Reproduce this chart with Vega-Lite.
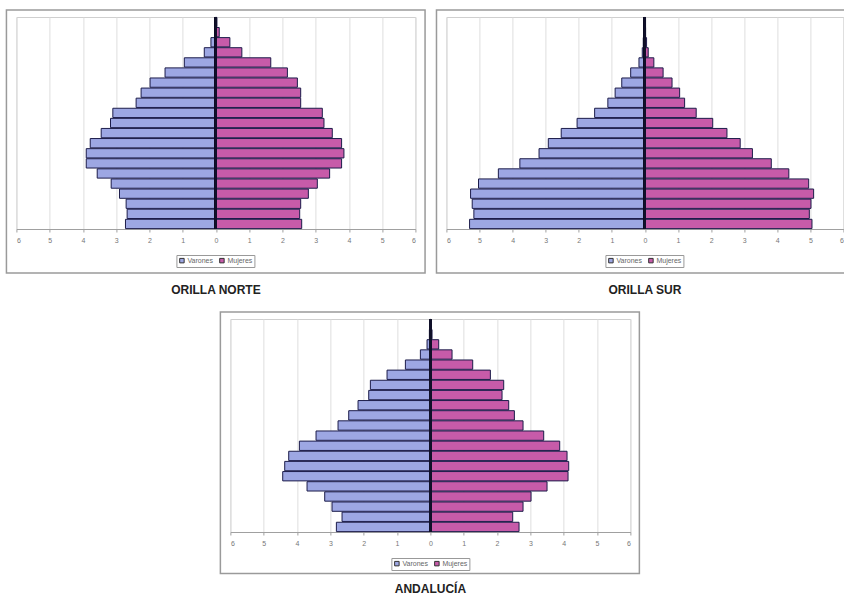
{
  "$schema": "https://vega.github.io/schema/vega-lite/v6.json",
  "padding": {"left": 5, "top": 8, "right": 0, "bottom": 0},
  "spacing": 13,
  "center": true,
  "background": "white",
  "config": {
    "view": {"stroke": "#cfcfcf", "strokeWidth": 1},
    "font": "Liberation Sans",
    "axis": {"labelFont": "Liberation Sans"},
    "legend": {"labelFont": "Liberation Sans"}
  },
  "datasets": {
    "norte": [
      {"edad": "0-4", "sexo": "Varones", "pct": -2.72}, {"edad": "0-4", "sexo": "Mujeres", "pct": 2.58},
      {"edad": "5-9", "sexo": "Varones", "pct": -2.67}, {"edad": "5-9", "sexo": "Mujeres", "pct": 2.52},
      {"edad": "10-14", "sexo": "Varones", "pct": -2.70}, {"edad": "10-14", "sexo": "Mujeres", "pct": 2.55},
      {"edad": "15-19", "sexo": "Varones", "pct": -2.90}, {"edad": "15-19", "sexo": "Mujeres", "pct": 2.78},
      {"edad": "20-24", "sexo": "Varones", "pct": -3.15}, {"edad": "20-24", "sexo": "Mujeres", "pct": 3.05},
      {"edad": "25-29", "sexo": "Varones", "pct": -3.57}, {"edad": "25-29", "sexo": "Mujeres", "pct": 3.42},
      {"edad": "30-34", "sexo": "Varones", "pct": -3.90}, {"edad": "30-34", "sexo": "Mujeres", "pct": 3.78},
      {"edad": "35-39", "sexo": "Varones", "pct": -3.90}, {"edad": "35-39", "sexo": "Mujeres", "pct": 3.85},
      {"edad": "40-44", "sexo": "Varones", "pct": -3.78}, {"edad": "40-44", "sexo": "Mujeres", "pct": 3.78},
      {"edad": "45-49", "sexo": "Varones", "pct": -3.45}, {"edad": "45-49", "sexo": "Mujeres", "pct": 3.50},
      {"edad": "50-54", "sexo": "Varones", "pct": -3.17}, {"edad": "50-54", "sexo": "Mujeres", "pct": 3.25},
      {"edad": "55-59", "sexo": "Varones", "pct": -3.10}, {"edad": "55-59", "sexo": "Mujeres", "pct": 3.20},
      {"edad": "60-64", "sexo": "Varones", "pct": -2.40}, {"edad": "60-64", "sexo": "Mujeres", "pct": 2.55},
      {"edad": "65-69", "sexo": "Varones", "pct": -2.25}, {"edad": "65-69", "sexo": "Mujeres", "pct": 2.55},
      {"edad": "70-74", "sexo": "Varones", "pct": -1.98}, {"edad": "70-74", "sexo": "Mujeres", "pct": 2.45},
      {"edad": "75-79", "sexo": "Varones", "pct": -1.53}, {"edad": "75-79", "sexo": "Mujeres", "pct": 2.15},
      {"edad": "80-84", "sexo": "Varones", "pct": -0.95}, {"edad": "80-84", "sexo": "Mujeres", "pct": 1.65},
      {"edad": "85-89", "sexo": "Varones", "pct": -0.35}, {"edad": "85-89", "sexo": "Mujeres", "pct": 0.78},
      {"edad": "90-94", "sexo": "Varones", "pct": -0.15}, {"edad": "90-94", "sexo": "Mujeres", "pct": 0.42},
      {"edad": "95-99", "sexo": "Varones", "pct": -0.04}, {"edad": "95-99", "sexo": "Mujeres", "pct": 0.10},
      {"edad": "100+", "sexo": "Varones", "pct": -0.02}, {"edad": "100+", "sexo": "Mujeres", "pct": 0.03}
    ],
    "sur": [
      {"edad": "0-4", "sexo": "Varones", "pct": -5.30}, {"edad": "0-4", "sexo": "Mujeres", "pct": 5.05},
      {"edad": "5-9", "sexo": "Varones", "pct": -5.17}, {"edad": "5-9", "sexo": "Mujeres", "pct": 4.97},
      {"edad": "10-14", "sexo": "Varones", "pct": -5.22}, {"edad": "10-14", "sexo": "Mujeres", "pct": 5.02},
      {"edad": "15-19", "sexo": "Varones", "pct": -5.27}, {"edad": "15-19", "sexo": "Mujeres", "pct": 5.10},
      {"edad": "20-24", "sexo": "Varones", "pct": -5.03}, {"edad": "20-24", "sexo": "Mujeres", "pct": 4.95},
      {"edad": "25-29", "sexo": "Varones", "pct": -4.43}, {"edad": "25-29", "sexo": "Mujeres", "pct": 4.35},
      {"edad": "30-34", "sexo": "Varones", "pct": -3.78}, {"edad": "30-34", "sexo": "Mujeres", "pct": 3.82},
      {"edad": "35-39", "sexo": "Varones", "pct": -3.20}, {"edad": "35-39", "sexo": "Mujeres", "pct": 3.25},
      {"edad": "40-44", "sexo": "Varones", "pct": -2.92}, {"edad": "40-44", "sexo": "Mujeres", "pct": 2.88},
      {"edad": "45-49", "sexo": "Varones", "pct": -2.53}, {"edad": "45-49", "sexo": "Mujeres", "pct": 2.48},
      {"edad": "50-54", "sexo": "Varones", "pct": -2.05}, {"edad": "50-54", "sexo": "Mujeres", "pct": 2.05},
      {"edad": "55-59", "sexo": "Varones", "pct": -1.52}, {"edad": "55-59", "sexo": "Mujeres", "pct": 1.55},
      {"edad": "60-64", "sexo": "Varones", "pct": -1.12}, {"edad": "60-64", "sexo": "Mujeres", "pct": 1.20},
      {"edad": "65-69", "sexo": "Varones", "pct": -0.90}, {"edad": "65-69", "sexo": "Mujeres", "pct": 1.05},
      {"edad": "70-74", "sexo": "Varones", "pct": -0.70}, {"edad": "70-74", "sexo": "Mujeres", "pct": 0.82},
      {"edad": "75-79", "sexo": "Varones", "pct": -0.43}, {"edad": "75-79", "sexo": "Mujeres", "pct": 0.55},
      {"edad": "80-84", "sexo": "Varones", "pct": -0.18}, {"edad": "80-84", "sexo": "Mujeres", "pct": 0.27},
      {"edad": "85-89", "sexo": "Varones", "pct": -0.08}, {"edad": "85-89", "sexo": "Mujeres", "pct": 0.10},
      {"edad": "90-94", "sexo": "Varones", "pct": -0.05}, {"edad": "90-94", "sexo": "Mujeres", "pct": 0.05},
      {"edad": "95-99", "sexo": "Varones", "pct": -0.02}, {"edad": "95-99", "sexo": "Mujeres", "pct": 0.02},
      {"edad": "100+", "sexo": "Varones", "pct": -0.01}, {"edad": "100+", "sexo": "Mujeres", "pct": 0.01}
    ],
    "andalucia": [
      {"edad": "0-4", "sexo": "Varones", "pct": -2.82}, {"edad": "0-4", "sexo": "Mujeres", "pct": 2.66},
      {"edad": "5-9", "sexo": "Varones", "pct": -2.65}, {"edad": "5-9", "sexo": "Mujeres", "pct": 2.47},
      {"edad": "10-14", "sexo": "Varones", "pct": -2.95}, {"edad": "10-14", "sexo": "Mujeres", "pct": 2.78},
      {"edad": "15-19", "sexo": "Varones", "pct": -3.17}, {"edad": "15-19", "sexo": "Mujeres", "pct": 3.02},
      {"edad": "20-24", "sexo": "Varones", "pct": -3.70}, {"edad": "20-24", "sexo": "Mujeres", "pct": 3.50},
      {"edad": "25-29", "sexo": "Varones", "pct": -4.43}, {"edad": "25-29", "sexo": "Mujeres", "pct": 4.13},
      {"edad": "30-34", "sexo": "Varones", "pct": -4.37}, {"edad": "30-34", "sexo": "Mujeres", "pct": 4.15},
      {"edad": "35-39", "sexo": "Varones", "pct": -4.25}, {"edad": "35-39", "sexo": "Mujeres", "pct": 4.10},
      {"edad": "40-44", "sexo": "Varones", "pct": -3.93}, {"edad": "40-44", "sexo": "Mujeres", "pct": 3.88},
      {"edad": "45-49", "sexo": "Varones", "pct": -3.43}, {"edad": "45-49", "sexo": "Mujeres", "pct": 3.40},
      {"edad": "50-54", "sexo": "Varones", "pct": -2.77}, {"edad": "50-54", "sexo": "Mujeres", "pct": 2.78},
      {"edad": "55-59", "sexo": "Varones", "pct": -2.45}, {"edad": "55-59", "sexo": "Mujeres", "pct": 2.52},
      {"edad": "60-64", "sexo": "Varones", "pct": -2.17}, {"edad": "60-64", "sexo": "Mujeres", "pct": 2.35},
      {"edad": "65-69", "sexo": "Varones", "pct": -1.85}, {"edad": "65-69", "sexo": "Mujeres", "pct": 2.15},
      {"edad": "70-74", "sexo": "Varones", "pct": -1.80}, {"edad": "70-74", "sexo": "Mujeres", "pct": 2.20},
      {"edad": "75-79", "sexo": "Varones", "pct": -1.30}, {"edad": "75-79", "sexo": "Mujeres", "pct": 1.80},
      {"edad": "80-84", "sexo": "Varones", "pct": -0.75}, {"edad": "80-84", "sexo": "Mujeres", "pct": 1.27},
      {"edad": "85-89", "sexo": "Varones", "pct": -0.30}, {"edad": "85-89", "sexo": "Mujeres", "pct": 0.65},
      {"edad": "90-94", "sexo": "Varones", "pct": -0.10}, {"edad": "90-94", "sexo": "Mujeres", "pct": 0.25},
      {"edad": "95-99", "sexo": "Varones", "pct": -0.03}, {"edad": "95-99", "sexo": "Mujeres", "pct": 0.05},
      {"edad": "100+", "sexo": "Varones", "pct": -0.01}, {"edad": "100+", "sexo": "Mujeres", "pct": 0.02}
    ]
  },
  "resolve": {"scale": {"color": "independent"}, "legend": {"color": "independent"}},
  "vconcat": [
    {
      "hconcat": [
        {
          "width": 399, "height": 212,
          "data": {"name": "norte"},
          "title": {"text": "ORILLA NORTE", "orient": "bottom", "anchor": "middle", "frame": "group", "fontSize": 12, "fontWeight": "bold", "font": "Liberation Sans", "color": "#222222", "offset": 11},
          "resolve": {"scale": {"y": "independent"}},
          "layer": [
            {"data": {"values": [{}]}, "mark": {"type": "rect", "clip": false, "fill": "white", "fillOpacity": 0, "stroke": "#9a9a9a", "strokeWidth": 1.5},
             "encoding": {"x": {"datum": -6.3, "type": "quantitative", "scale": {"domain": [-6, 6], "nice": false}, "axis": {"title": null, "values": [-6, -5, -4, -3, -2, -1, 0, 1, 2, 3, 4, 5, 6], "labelExpr": "abs(datum.value)", "grid": true, "gridColor": "#dedede", "domainColor": "#a0a0a0", "tickColor": "#a0a0a0", "tickSize": 3, "labelFontSize": 7, "labelColor": "#777777", "labelPadding": 4}}, "x2": {"datum": 6.29}, "y": {"datum": 1.033, "type": "quantitative", "scale": {"domain": [0, 1], "nice": false}, "axis": null}, "y2": {"datum": -0.2075}}},
            {"mark": {"type": "bar", "stroke": "#1c1c4a", "strokeWidth": 1},
             "encoding": {
               "y": {"field": "edad", "type": "ordinal", "sort": ["100+", "95-99", "90-94", "85-89", "80-84", "75-79", "70-74", "65-69", "60-64", "55-59", "50-54", "45-49", "40-44", "35-39", "30-34", "25-29", "20-24", "15-19", "10-14", "5-9", "0-4"], "axis": null, "scale": {"paddingInner": 0.08, "paddingOuter": 0.04}},
               "x": {"field": "pct", "type": "quantitative", "scale": {"domain": [-6, 6], "nice": false}, "axis": {"title": null, "values": [-6, -5, -4, -3, -2, -1, 0, 1, 2, 3, 4, 5, 6], "labelExpr": "abs(datum.value)", "grid": true, "gridColor": "#dedede", "domainColor": "#a0a0a0", "tickColor": "#a0a0a0", "tickSize": 3, "labelFontSize": 7, "labelColor": "#777777", "labelPadding": 4}},
               "color": {"field": "sexo", "type": "nominal", "scale": {"domain": ["Varones", "Mujeres"], "range": ["#9da7e3", "#c75ba9"]},
                 "legend": {"orient": "none", "legendX": 160, "legendY": 238, "direction": "horizontal", "title": null, "strokeColor": "#999999", "padding": 2, "symbolType": "square", "symbolSize": 20, "symbolStrokeColor": "#333333", "symbolStrokeWidth": 1, "labelFontSize": 7, "labelColor": "#666666", "columnPadding": 4, "labelOffset": 2}}
             }},
            {"mark": {"type": "rule", "color": "#10102a", "strokeWidth": 2}, "encoding": {"x": {"datum": 0, "type": "quantitative", "axis": {"title": null, "values": [-6, -5, -4, -3, -2, -1, 0, 1, 2, 3, 4, 5, 6], "labelExpr": "abs(datum.value)", "grid": true, "gridColor": "#dedede", "domainColor": "#a0a0a0", "tickColor": "#a0a0a0", "tickSize": 3, "labelFontSize": 7, "labelColor": "#777777", "labelPadding": 4}}}}
          ]
        },
        {
          "width": 397, "height": 212,
          "data": {"name": "sur"},
          "title": {"text": "ORILLA SUR", "orient": "bottom", "anchor": "middle", "frame": "group", "fontSize": 12, "fontWeight": "bold", "font": "Liberation Sans", "color": "#222222", "offset": 11},
          "resolve": {"scale": {"y": "independent"}},
          "layer": [
            {"data": {"values": [{}]}, "mark": {"type": "rect", "clip": false, "fill": "white", "fillOpacity": 0, "stroke": "#9a9a9a", "strokeWidth": 1.5},
             "encoding": {"x": {"datum": -6.3, "type": "quantitative", "scale": {"domain": [-6, 6], "nice": false}, "axis": {"title": null, "values": [-6, -5, -4, -3, -2, -1, 0, 1, 2, 3, 4, 5, 6], "labelExpr": "abs(datum.value)", "grid": true, "gridColor": "#dedede", "domainColor": "#a0a0a0", "tickColor": "#a0a0a0", "tickSize": 3, "labelFontSize": 7, "labelColor": "#777777", "labelPadding": 4}}, "x2": {"datum": 6.3}, "y": {"datum": 1.033, "type": "quantitative", "scale": {"domain": [0, 1], "nice": false}, "axis": null}, "y2": {"datum": -0.2075}}},
            {"mark": {"type": "bar", "stroke": "#1c1c4a", "strokeWidth": 1},
             "encoding": {
               "y": {"field": "edad", "type": "ordinal", "sort": ["100+", "95-99", "90-94", "85-89", "80-84", "75-79", "70-74", "65-69", "60-64", "55-59", "50-54", "45-49", "40-44", "35-39", "30-34", "25-29", "20-24", "15-19", "10-14", "5-9", "0-4"], "axis": null, "scale": {"paddingInner": 0.08, "paddingOuter": 0.04}},
               "x": {"field": "pct", "type": "quantitative", "scale": {"domain": [-6, 6], "nice": false}, "axis": {"title": null, "values": [-6, -5, -4, -3, -2, -1, 0, 1, 2, 3, 4, 5, 6], "labelExpr": "abs(datum.value)", "grid": true, "gridColor": "#dedede", "domainColor": "#a0a0a0", "tickColor": "#a0a0a0", "tickSize": 3, "labelFontSize": 7, "labelColor": "#777777", "labelPadding": 4}},
               "color": {"field": "sexo", "type": "nominal", "scale": {"domain": ["Varones", "Mujeres"], "range": ["#9da7e3", "#c75ba9"]},
                 "legend": {"orient": "none", "legendX": 159, "legendY": 238, "direction": "horizontal", "title": null, "strokeColor": "#999999", "padding": 2, "symbolType": "square", "symbolSize": 20, "symbolStrokeColor": "#333333", "symbolStrokeWidth": 1, "labelFontSize": 7, "labelColor": "#666666", "columnPadding": 4, "labelOffset": 2}}
             }},
            {"mark": {"type": "rule", "color": "#10102a", "strokeWidth": 2}, "encoding": {"x": {"datum": 0, "type": "quantitative", "axis": {"title": null, "values": [-6, -5, -4, -3, -2, -1, 0, 1, 2, 3, 4, 5, 6], "labelExpr": "abs(datum.value)", "grid": true, "gridColor": "#dedede", "domainColor": "#a0a0a0", "tickColor": "#a0a0a0", "tickSize": 3, "labelFontSize": 7, "labelColor": "#777777", "labelPadding": 4}}}}
          ]
        }
      ],
      "spacing": 8,
      "resolve": {"scale": {"color": "independent"}, "legend": {"color": "independent"}}
    },
    {
      "width": 400, "height": 213,
      "data": {"name": "andalucia"},
      "title": {"text": "ANDALUCÍA", "orient": "bottom", "anchor": "middle", "frame": "group", "fontSize": 12, "fontWeight": "bold", "font": "Liberation Sans", "color": "#222222", "offset": 10},
      "resolve": {"scale": {"y": "independent"}},
      "layer": [
        {"data": {"values": [{}]}, "mark": {"type": "rect", "clip": false, "fill": "white", "fillOpacity": 0, "stroke": "#9a9a9a", "strokeWidth": 1.5},
         "encoding": {"x": {"datum": -6.3, "type": "quantitative", "scale": {"domain": [-6, 6], "nice": false}, "axis": {"title": null, "values": [-6, -5, -4, -3, -2, -1, 0, 1, 2, 3, 4, 5, 6], "labelExpr": "abs(datum.value)", "grid": true, "gridColor": "#dedede", "domainColor": "#a0a0a0", "tickColor": "#a0a0a0", "tickSize": 3, "labelFontSize": 7, "labelColor": "#777777", "labelPadding": 4}}, "x2": {"datum": 6.27}, "y": {"datum": 1.033, "type": "quantitative", "scale": {"domain": [0, 1], "nice": false}, "axis": null}, "y2": {"datum": -0.195}}},
        {"mark": {"type": "bar", "stroke": "#1c1c4a", "strokeWidth": 1},
         "encoding": {
           "y": {"field": "edad", "type": "ordinal", "sort": ["100+", "95-99", "90-94", "85-89", "80-84", "75-79", "70-74", "65-69", "60-64", "55-59", "50-54", "45-49", "40-44", "35-39", "30-34", "25-29", "20-24", "15-19", "10-14", "5-9", "0-4"], "axis": null, "scale": {"paddingInner": 0.08, "paddingOuter": 0.04}},
           "x": {"field": "pct", "type": "quantitative", "scale": {"domain": [-6, 6], "nice": false}, "axis": {"title": null, "values": [-6, -5, -4, -3, -2, -1, 0, 1, 2, 3, 4, 5, 6], "labelExpr": "abs(datum.value)", "grid": true, "gridColor": "#dedede", "domainColor": "#a0a0a0", "tickColor": "#a0a0a0", "tickSize": 3, "labelFontSize": 7, "labelColor": "#777777", "labelPadding": 4}},
           "color": {"field": "sexo", "type": "nominal", "scale": {"domain": ["Varones", "Mujeres"], "range": ["#9da7e3", "#c75ba9"]},
             "legend": {"orient": "none", "legendX": 161, "legendY": 239, "direction": "horizontal", "title": null, "strokeColor": "#999999", "padding": 2, "symbolType": "square", "symbolSize": 20, "symbolStrokeColor": "#333333", "symbolStrokeWidth": 1, "labelFontSize": 7, "labelColor": "#666666", "columnPadding": 4, "labelOffset": 2}}
         }},
        {"mark": {"type": "rule", "color": "#10102a", "strokeWidth": 2}, "encoding": {"x": {"datum": 0, "type": "quantitative", "axis": {"title": null, "values": [-6, -5, -4, -3, -2, -1, 0, 1, 2, 3, 4, 5, 6], "labelExpr": "abs(datum.value)", "grid": true, "gridColor": "#dedede", "domainColor": "#a0a0a0", "tickColor": "#a0a0a0", "tickSize": 3, "labelFontSize": 7, "labelColor": "#777777", "labelPadding": 4}}}}
      ]
    }
  ]
}
